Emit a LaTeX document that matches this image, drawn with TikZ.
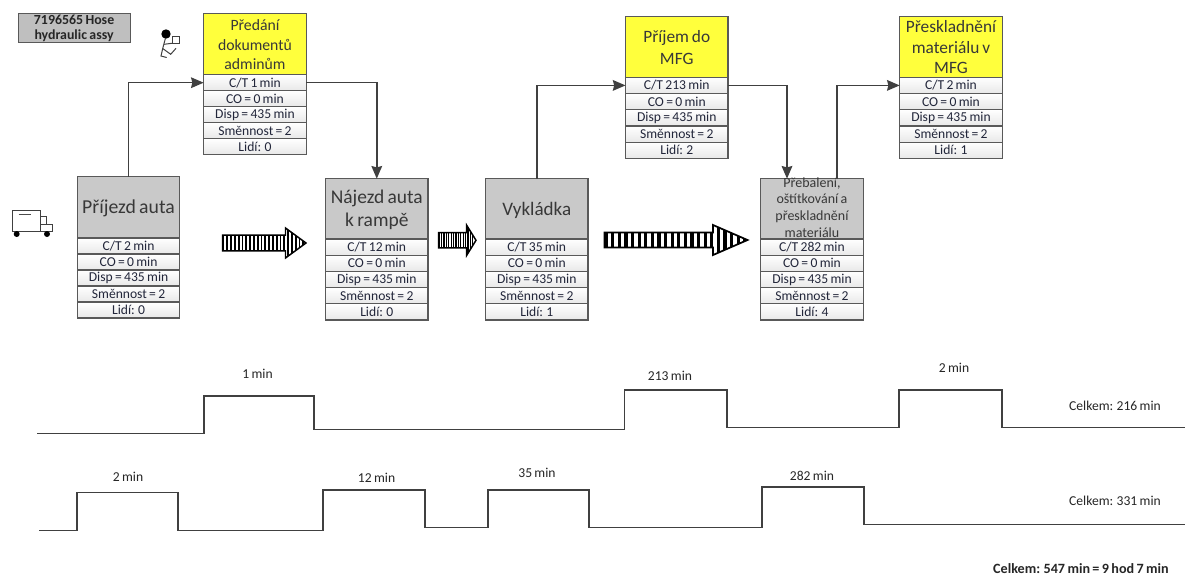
\documentclass[tikz,border=0pt]{standalone}
\usepackage{fontspec}
\setmainfont[WordSpace=0.75]{Carlito}
\usetikzlibrary{arrows.meta,backgrounds,calc}
\definecolor{edgec}{HTML}{595959}
\definecolor{linec}{HTML}{404040}
\definecolor{headgray}{HTML}{C9C9C9}
\definecolor{tagray}{HTML}{BFBFBF}
\definecolor{kaizen}{HTML}{FFFF3C}
\definecolor{rowtext}{HTML}{22263A}
\definecolor{shadowc}{HTML}{E8E8E8}
\tikzset{
  x=0.75pt,y=-0.75pt,
  headbox/.style={draw=edgec,line width=0.9pt,minimum width=76.9pt,inner sep=0pt,outer sep=0pt,anchor=north west,text=black!78},
  rowbox/.style={draw=edgec,line width=0.9pt,minimum width=76.9pt,inner sep=0pt,outer sep=0pt,anchor=north,top color=white,bottom color=black!9,text=rowtext,font=\fontsize{10.2}{11}\selectfont},
  flow/.style={draw=linec,line width=1.1pt,-{Stealth[length=9.5pt,width=8pt,inset=1pt]}},
  trace/.style={draw=linec,line width=1.1pt,line join=miter},
  tlabel/.style={inner sep=0pt,text=black!85,font=\fontsize{10.2}{11}\selectfont},
  pictline/.style={draw=black!75,line width=0.75pt},
}
\newcommand{\ttl}[3]{\vbox to 0pt{\vss\kern3pt\hbox{\fontsize{#1}{#2}\selectfont\begin{tabular}{@{}c@{}}#3\end{tabular}}\vss}}
% [row height]{id}{x}{y}{header height}{fill}{title}{C/T}{people}
\newcommand{\vsm}[9][16.2]{%
  \node[headbox,fill=#6,minimum height=#5*0.75pt] (#2) at (#3,#4) {#7};
  \node[rowbox,minimum height=#1*0.75pt] (#2-ct) at (#2.south) {C/T #8 min};
  \node[rowbox,minimum height=#1*0.75pt] (#2-co) at (#2-ct.south) {CO = 0 min};
  \node[rowbox,minimum height=#1*0.75pt] (#2-disp) at (#2-co.south) {Disp = 435 min};
  \node[rowbox,minimum height=#1*0.75pt] (#2-smen) at (#2-disp.south) {Směnnost = 2};
  \node[rowbox,minimum height=#1*0.75pt] (#2-lidi) at (#2-smen.south) {Lidí: #9};
  \begin{scope}[on background layer]
    \fill[shadowc] ([shift={(2.5,2.5)}]#2.north west) rectangle ([shift={(2.5,2.5)}]#2-lidi.south east);
  \end{scope}
}
% {x0}{x base}{x tip}{y mid}{shaft half}{head half}{period}{line width}
\newcommand{\pusharrow}[8]{%
  \begin{scope}
    \clip (#1,#4-#5) rectangle (#2,#4+#5) (#2,#4-#6) -- (#3,#4) -- (#2,#4+#6) -- cycle;
    \fill[white] (#1,#4-#6) rectangle (#3,#4+#6);
    \pgfmathsetmacro{\stripew}{#7*0.5}
    \pgfmathsetmacro{\nextx}{#1+#7}
    \foreach \sx in {#1,\nextx,...,#3} {\fill[black] (\sx,#4-#6) rectangle (\sx+\stripew,#4+#6);}
  \end{scope}
  \draw[black,line width=#8,line join=miter] (#1,#4-#5) -- (#2,#4-#5) -- (#2,#4-#6) -- (#3,#4) -- (#2,#4+#6) -- (#2,#4+#5) -- (#1,#4+#5) -- cycle;
}
\begin{document}
\begin{tikzpicture}
\useasboundingbox (0,0) rectangle (1185,576);
\fill[white] (0,0) rectangle (1185,576);

% tag
\node[draw=edgec,line width=0.9pt,fill=tagray,anchor=north west,minimum width=84pt,minimum height=22pt,inner sep=0pt,align=center,font=\fontsize{10.4}{11.2}\selectfont\bfseries,text=black!85] (tag) at (17.5,12.8) {7196565 Hose\\hydraulic assy};

% process boxes
\vsm[16]{pred}{203.7}{13.7}{61}{kaizen}{\ttl{11.8}{14.4}{Předání\\dokumentů\\adminům}}{1}{0}
\vsm[16]{prij}{77.3}{176.7}{61.3}{headgray}{\ttl{14.8}{16}{Příjezd auta}}{2}{0}
\vsm{naj}{325.5}{178.7}{60.3}{headgray}{\ttl{14.6}{17.2}{Nájezd auta\\k rampě}}{12}{0}
\vsm{vyk}{485.5}{178.7}{60.3}{headgray}{\ttl{14.3}{16}{Vykládka}}{35}{1}
\vsm{reb}{760.7}{178.7}{60.3}{headgray}{\ttl{10.5}{12.5}{Přebalení,\\oštítkování a\\přeskladnění\\materiálu\\[3pt]}}{282}{4}
\vsm{mfg}{625.5}{16.7}{60.6}{kaizen}{\ttl{13}{16.2}{Příjem do\\MFG}}{213}{2}
\vsm{skl}{899.7}{16.7}{60.6}{kaizen}{\ttl{13}{15.6}{Přeskladnění\\materiálu v\\MFG}}{2}{1}

% connectors
\coordinate (rebin) at (787,178.7);
\coordinate (rebout) at (837,178.7);
\draw[flow] (prij.north) |- (pred-ct.west);
\draw[flow] (pred-ct.east) -| (naj.north);
\draw[flow] (vyk.north) |- (mfg-ct.west);
\draw[flow] (mfg-ct.east) -| (rebin);
\draw[flow] (rebout) |- (skl-ct.west);

% push arrows
\pusharrow{222.5}{285.5}{306}{243}{7.8}{15}{3.8}{1.1pt}
\pusharrow{438.5}{466.7}{476}{240.3}{7.6}{15}{2.4}{1.1pt}
\pusharrow{604.5}{713}{747.5}{240}{7.5}{15}{6.6}{1.3pt}

% truck
\draw[pictline] (12,210) rectangle (40,231.5);
\draw[pictline] (40,216) rectangle (46.7,224);
\draw[pictline] (40,224) rectangle (52.3,231.5);
\fill[black] (16.7,234) circle (3);
\fill[black] (47,234) circle (3);
\draw[black!70,line width=0.7pt] (18.5,214.5) -- (31,214.5);

% person
\fill[black] (166,34) circle (4.7);
\draw[pictline] (172.7,36.7) rectangle (179.3,43.3);
\draw[pictline,line join=miter] (165.5,38) -- (162.7,48.5) -- (161,56) -- (166.7,57.5);
\draw[pictline] (164,44.3) -- (172,43.3);
\draw[pictline,line join=miter] (162.7,48.5) -- (170.7,54.3) -- (176,48.3);

% timelines
\draw[trace] (37,433.7) -- (204,433.7) -- (204,396) -- (314,396) -- (314,429.7) -- (624.4,429.7) -- (624.4,390) -- (727,390) -- (727,427.7) -- (899,427.7) -- (899,390) -- (1002,390) -- (1002,427.7) -- (1185,427.7);
\draw[trace] (39.4,530.3) -- (77,530.3) -- (77,492.7) -- (178,492.7) -- (178,530.3) -- (323,530.3) -- (323,490) -- (425,490) -- (425,527.7) -- (488,527.7) -- (488,490) -- (589,490) -- (589,527.7) -- (762,527.7) -- (762,487) -- (864,487) -- (864,524.7) -- (1185,524.7);

% labels
\node[tlabel] (l1) at (257.5,373.5) {1 min};
\node[tlabel] (l2) at (670,376) {213 min};
\node[tlabel] (l3) at (954,368) {2 min};
\node[tlabel] (l4) at (128,476.5) {2 min};
\node[tlabel] (l5) at (376.6,477.5) {12 min};
\node[tlabel] (l6) at (537,472.5) {35 min};
\node[tlabel] (l7) at (812,475.5) {282 min};
\node[tlabel] (t1) at (1115,405.5) {Celkem: 216 min};
\node[tlabel] (t2) at (1115,500.5) {Celkem: 331 min};
\node[tlabel,font=\fontsize{10.6}{11}\selectfont\bfseries] (t3) at (1081,568.5) {Celkem: 547 min = 9 hod 7 min};
\end{tikzpicture}
\end{document}
